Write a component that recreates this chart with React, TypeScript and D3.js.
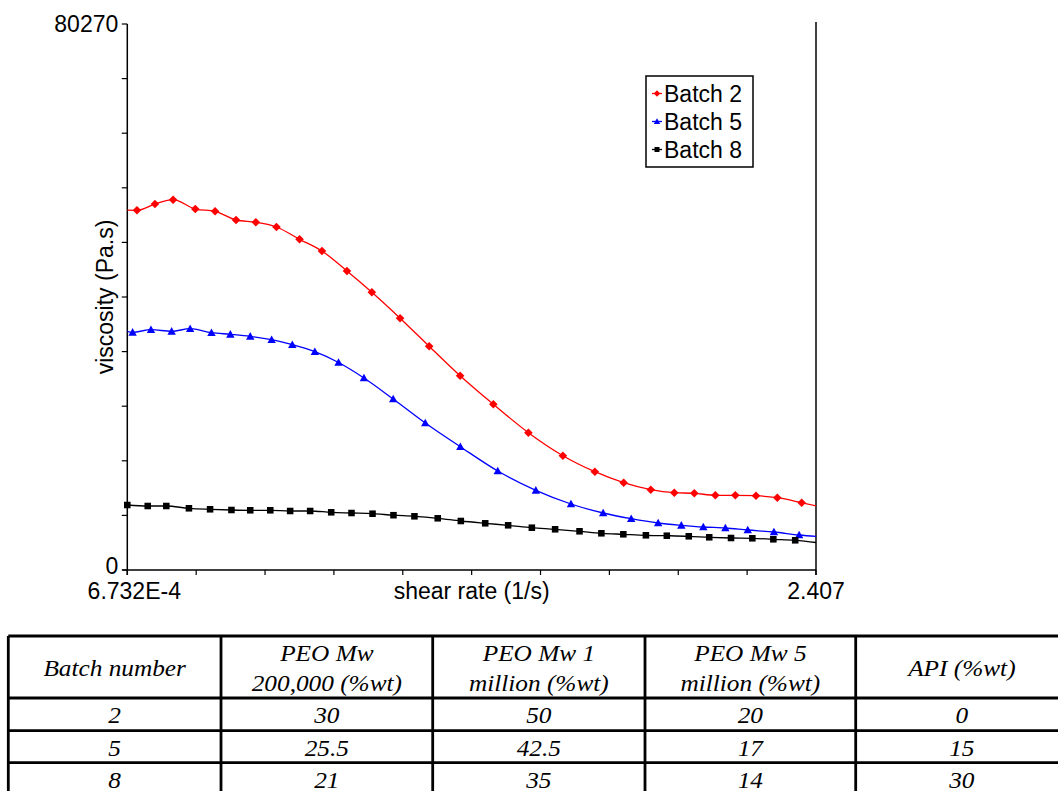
import React from 'react';
import * as d3 from 'd3';

// ---- data (shear rate in 1/s, viscosity in Pa.s) ----
const X_MIN = 6.732e-4;
const X_MAX = 2.407;
const Y_MAX = 80270;

const batch2X = [5.98e-4, 7.55e-4, 9.35e-4, 1.16e-3, 1.51e-3, 1.91e-3, 2.45e-3, 3.10e-3, 3.96e-3, 5.21e-3, 6.80e-3, 9.15e-3, 1.23e-2, 1.72e-2, 2.43e-2, 3.51e-2, 5.21e-2, 7.90e-2, 0.119, 0.174, 0.245, 0.338, 0.447, 0.567, 0.728, 0.923, 1.18, 1.52, 2.03, 2.81];
const batch2Y = [52924, 52880, 53806, 54438, 53071, 52733, 51454, 51115, 50424, 48616, 46896, 43956, 40825, 37017, 32901, 28564, 24359, 20184, 16803, 14451, 12834, 11805, 11364, 11276, 10982, 10982, 10923, 10629, 9894, 8982];

const batch5X = [5.84e-4, 7.17e-4, 8.92e-4, 1.14e-3, 1.42e-3, 1.83e-3, 2.29e-3, 2.90e-3, 3.74e-3, 4.78e-3, 6.25e-3, 8.28e-3, 1.12e-2, 1.585e-2, 2.32e-2, 3.52e-2, 5.49e-2, 8.63e-2, 0.131, 0.192, 0.268, 0.369, 0.486, 0.631, 0.820, 1.07, 1.46, 1.97, 2.81];
const batch5Y = [35723, 34944, 35327, 35091, 35474, 34885, 34650, 34356, 33856, 33121, 32092, 30504, 28226, 25139, 21610, 18126, 14554, 11717, 9703, 8380, 7542, 6909, 6571, 6321, 6174, 5880, 5586, 5145, 4807];

const batch8X = [6.732e-4, 8.58e-4, 1.07e-3, 1.40e-3, 1.80e-3, 2.32e-3, 2.90e-3, 3.68e-3, 4.66e-3, 5.91e-3, 7.59e-3, 9.66e-3, 1.24e-2, 1.59e-2, 2.04e-2, 2.69e-2, 3.54e-2, 4.73e-2, 6.21e-2, 8.23e-2, 0.1085, 0.145, 0.188, 0.244, 0.319, 0.409, 0.531, 0.677, 0.877, 1.13, 1.45, 1.88, 2.81];
const batch8Y = [9556, 9409, 9409, 9071, 8924, 8821, 8777, 8777, 8674, 8674, 8482, 8380, 8277, 8056, 7894, 7600, 7203, 6865, 6571, 6219, 5983, 5689, 5395, 5248, 5101, 5042, 4954, 4807, 4704, 4660, 4513, 4366, 3793];

const seriesNames = ['Batch 2', 'Batch 5', 'Batch 8'];
const seriesColors = ['#ff0000', '#0000ff', '#000000'];

const yTickLabels = ['0', '80270'];
const xTickLabels = ['6.732E-4', '2.407'];
const xAxisTitle = 'shear rate (1/s)';
const yAxisTitle = 'viscosity (Pa.s)';

const tableHeader = [
  ['Batch number'],
  ['PEO Mw', '200,000 (%wt)'],
  ['PEO Mw 1', 'million (%wt)'],
  ['PEO Mw 5', 'million (%wt)'],
  ['API (%wt)'],
];
const tableRows = [
  ['2', '30', '50', '20', '0'],
  ['5', '25.5', '42.5', '17', '15'],
  ['8', '21', '35', '14', '30'],
];

function marker(kind: number, size: number) {
  const s = size;
  if (kind === 0) return `M0,${-s}L${s},0L0,${s}L${-s},0Z`;
  if (kind === 1) return `M0,${-s}L${s},${s * 0.8}L${-s},${s * 0.8}Z`;
  return `M${-s * 0.78},${-s * 0.78}H${s * 0.78}V${s * 0.78}H${-s * 0.78}Z`;
}

export default function App() {
  const W = 1058, H = 791;
  const left = 127.3, right = 816, top = 24, bottom = 570;
  const x = d3.scaleLog().domain([X_MIN, X_MAX]).range([left, right]);
  const y = d3.scaleLinear().domain([0, Y_MAX]).range([bottom, top]);

  const series = [
    { xs: batch2X, ys: batch2Y },
    { xs: batch5X, ys: batch5Y },
    { xs: batch8X, ys: batch8Y },
  ].map((s, i) => ({
    name: seriesNames[i],
    color: seriesColors[i],
    pts: s.xs.map((v, j) => [v, s.ys[j]] as [number, number]),
  }));

  const line = d3.line<[number, number]>()
    .x(d => x(d[0]))
    .y(d => y(d[1]))
    .curve(d3.curveMonotoneX);

  const yTicks = d3.range(11).map(i => (Y_MAX / 10) * i);
  const logSpan = Math.log10(X_MAX / X_MIN);
  const xTicks = d3.range(11).map(i => X_MIN * Math.pow(10, (logSpan * i) / 10));

  const chartFont = "'Liberation Sans', Arial, sans-serif";
  const tableFont = "'Liberation Serif', 'Times New Roman', serif";

  const colEdges = [8.3, 221, 432.7, 645, 855.7, 1068];
  const rowEdges = [636, 698, 730.7, 762.7, 795];

  return (
    <svg width={W} height={H} style={{ position: 'absolute', left: 0, top: 0, background: '#fff' }}>
      <defs>
        <clipPath id="plotClip">
          <rect x={left} y={top - 5} width={right - left} height={bottom - top + 5} />
        </clipPath>
      </defs>
      <rect x={0} y={0} width={W} height={H} fill="#fff" />

      {/* axes */}
      <line x1={left} y1={top} x2={left} y2={bottom + 5} stroke="#000" strokeWidth={1.5} />
      <line x1={left - 5} y1={bottom} x2={right} y2={bottom} stroke="#000" strokeWidth={1.5} />
      <line x1={right} y1={top - 2} x2={right} y2={bottom + 5} stroke="#000" strokeWidth={1.5} />
      {yTicks.map((t, i) => (
        <line key={'yt' + i} x1={left - 5.5} x2={left} y1={y(t)} y2={y(t)} stroke="#000" strokeWidth={1.2} />
      ))}
      {xTicks.map((t, i) => (
        <line key={'xt' + i} x1={x(t)} x2={x(t)} y1={bottom} y2={bottom + 5} stroke="#000" strokeWidth={1.2} />
      ))}
      <text x={left - 9} y={y(Y_MAX) + 8} textAnchor="end" fontFamily={chartFont} fontSize={23}>{yTickLabels[1]}</text>
      <text x={left - 9} y={y(0) + 4} textAnchor="end" fontFamily={chartFont} fontSize={23}>{yTickLabels[0]}</text>
      <text x={x(X_MIN) + 7} y={599} textAnchor="middle" fontFamily={chartFont} fontSize={23}>{xTickLabels[0]}</text>
      <text x={x(X_MAX)} y={599} textAnchor="middle" fontFamily={chartFont} fontSize={23}>{xTickLabels[1]}</text>
      <text x={(left + right) / 2} y={599} textAnchor="middle" fontFamily={chartFont} fontSize={23}>{xAxisTitle}</text>
      <text transform={`translate(113,297) rotate(-90)`} textAnchor="middle" fontFamily={chartFont} fontSize={23}>{yAxisTitle}</text>

      {/* series */}
      <g clipPath="url(#plotClip)">
        {series.map((s, i) => (
          <path key={'l' + i} d={line(s.pts) || ''} fill="none" stroke={s.color} strokeWidth={1.3} />
        ))}
      </g>
      {series.map((s, i) => (
        <g key={'m' + i} fill={s.color}>
          {s.pts.filter(p => p[0] >= X_MIN && p[0] <= X_MAX).map((p, j) => (
            <path key={j} d={marker(i, i === 0 ? 4.3 : 4.2)} transform={`translate(${x(p[0])},${y(p[1])})`} />
          ))}
        </g>
      ))}

      {/* legend */}
      <rect x={646} y={76} width={107} height={91} fill="#fff" stroke="#000" strokeWidth={1.5} />
      {series.map((s, i) => (
        <g key={'lg' + i}>
          <line x1={652} x2={662} y1={93.5 + i * 28} y2={93.5 + i * 28} stroke={s.color} strokeWidth={1.3} />
          <path d={marker(i, 3.2)} fill={s.color} transform={`translate(657,${93.5 + i * 28})`} />
          <text x={664} y={101.5 + i * 28} fontFamily={chartFont} fontSize={23}>{s.name}</text>
        </g>
      ))}

      {/* table */}
      <g fontFamily={tableFont} fontStyle="italic" fontSize={23}>
        {tableHeader.map((lines, c) => {
          const cx = (colEdges[c] + colEdges[c + 1]) / 2;
          if (lines.length === 1) {
            return (
              <text key={'h' + c} transform={`translate(${cx},676) scale(1.1,1)`} textAnchor="middle">{lines[0]}</text>
            );
          }
          return lines.map((ln, k) => (
            <text key={'h' + c + '_' + k} transform={`translate(${cx},${661 + k * 30}) scale(1.1,1)`} textAnchor="middle">{ln}</text>
          ));
        })}
        {tableRows.map((row, r) =>
          row.map((cell, c) => (
            <text key={'c' + r + '_' + c}
              transform={`translate(${(colEdges[c] + colEdges[c + 1]) / 2},${rowEdges[r + 1] + 25}) scale(1.1,1)`}
              textAnchor="middle">{cell}</text>
          ))
        )}
      </g>
      <g stroke="#000" strokeWidth={2.8}>
        {rowEdges.map((ry, i) => (
          <line key={'hr' + i} x1={colEdges[0]} x2={colEdges[colEdges.length - 1]} y1={ry} y2={ry} />
        ))}
        {colEdges.map((cx, i) => (
          <line key={'vr' + i} x1={cx} x2={cx} y1={rowEdges[0]} y2={rowEdges[rowEdges.length - 1]} />
        ))}
      </g>
    </svg>
  );
}
